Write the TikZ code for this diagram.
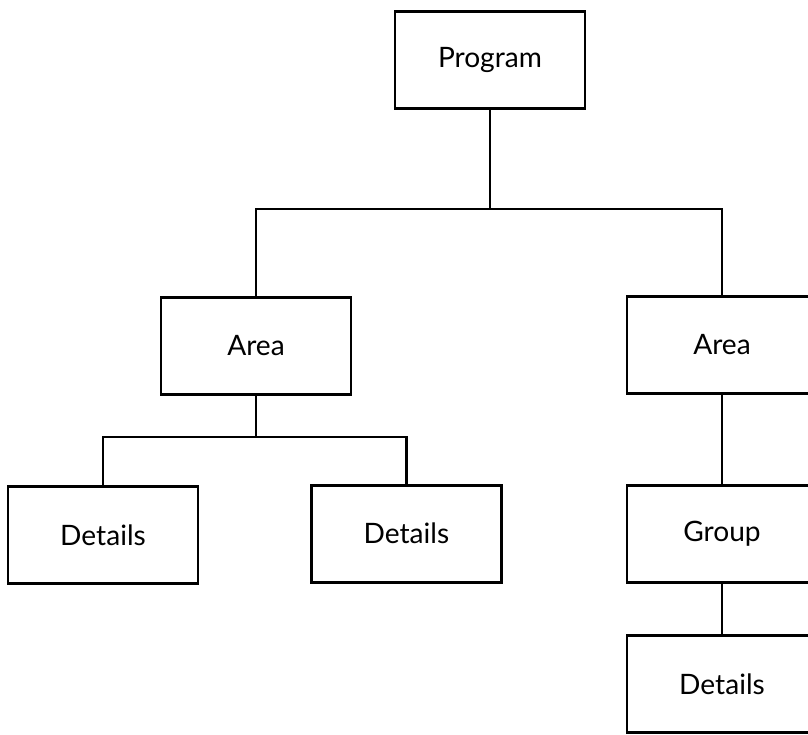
\documentclass[tikz,border=0pt]{standalone}
\usepackage{fontspec}
\setmainfont{Lato}
\begin{document}
\begin{tikzpicture}[line width=2pt,
    box/.style={draw, line width=2pt, minimum width=4.75cm, minimum height=2.425cm, font=\fontsize{20}{24}\selectfont}]
  \useasboundingbox (0,0) rectangle (20.2,-18.35);

  % Kaesten
  \node[box] (prog) at (12.25,-1.5) {Program};
  \node[box] (areaL) at (6.4,-8.64) {Area};
  \node[box] (areaR) at (18.05,-8.62) {Area};
  \node[box] (detL) at (2.575,-13.375) {Details};
  \node[box] (detM) at (10.16,-13.34) {Details};
  \node[box] (group) at (18.05,-13.35) {Group};
  \node[box] (detR) at (18.05,-17.1) {Details};

  % Verbindungen oben
  \coordinate (bus1) at (12.25,-5.225);
  \draw (prog) -- (bus1);
  \draw (areaL.north) |- (bus1) -| (areaR.north);

  % Verbindungen links
  \coordinate (bus2) at (6.4,-10.925);
  \draw (areaL) -- (bus2);
  \draw (detL.north) |- (bus2) -| (detM.north);

  % Verbindungen rechts
  \draw (areaR) -- (group);
  \draw (group) -- (detR);
\end{tikzpicture}
\end{document}
